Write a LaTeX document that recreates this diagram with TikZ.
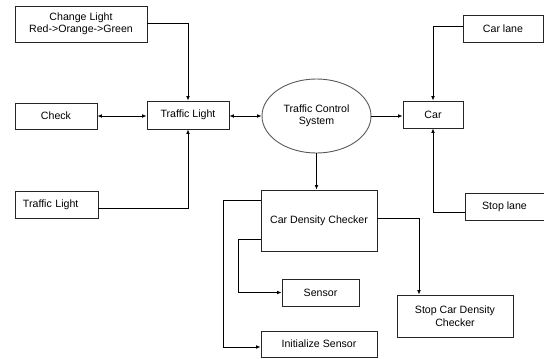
\documentclass[tikz,border=0pt]{standalone}
\usepackage{fontspec}
\setmainfont{Liberation Sans}
\usetikzlibrary{arrows.meta,shapes.geometric}
\begin{document}
\begin{tikzpicture}[x=1pt,y=-1pt,
  every node/.style={font=\fontsize{10.6}{12.5}\selectfont, inner sep=0pt},
  box/.style={draw=black!85, line width=0.9pt, fill=white, align=center},
  conn/.style={draw=black, line width=0.8pt},
  arr/.style={conn, -{Latex[length=4.5pt,width=3.8pt]}},
  darr/.style={conn, {Latex[length=4.5pt,width=3.8pt]}-{Latex[length=4.5pt,width=3.8pt]}}]
\useasboundingbox (0,0) rectangle (544,359);
\node[box, minimum width=132pt, minimum height=36pt] (chg) at (81,24) {Change Light\\Red->Orange->Green};
\node[box, minimum width=82pt, minimum height=26pt] (chk) at (56,116) {Check};
\node[box, minimum width=82pt, minimum height=28pt] (tl) at (188,115) {Traffic Light};
\node[box, minimum width=83pt, minimum height=27pt, text width=67pt, align=left] (tlb) at (56.5,204.5) {Traffic Light};
\node[draw=black!65, line width=0.9pt, ellipse, minimum width=109pt, minimum height=74pt, align=center] (tcs) at (316.5,116) {Traffic Control\\System};
\node[box, minimum width=60pt, minimum height=27pt] (car) at (433,114.5) {Car};
\node[box, minimum width=80pt, minimum height=27pt] (lane) at (503,28.5) {Car lane};
\node[box, minimum width=79pt, minimum height=27pt] (stop) at (504.5,206.5) {Stop lane};
\node[box, minimum width=116pt, minimum height=61pt] (cdc) at (319,220.5) {Car Density Checker};
\node[box, minimum width=77pt, minimum height=27pt] (sensor) at (320.5,292.5) {Sensor};
\node[box, minimum width=116pt, minimum height=26pt] (init) at (319,344) {Initialize Sensor};
\node[box, minimum width=116pt, minimum height=42pt] (scdc) at (455,316) {Stop Car Density\\Checker};

\draw[arr] ([yshift=1pt]chg.east) -| (tl.north);
\draw[darr] (chk.east) -- (chk.east -| tl.west);
\draw[arr] ([yshift=-3.5pt]tlb.east) -| (tl.south);
\draw[darr] (tl.east |- tcs.west) -- (tcs.west);
\draw[arr] (tcs.east) -- (tcs.east -| car.west);
\draw[arr] ([yshift=2.5pt]lane.west) -| (car.north);
\draw[arr] ([yshift=-5.5pt]stop.west) -| (car.south);
\draw[arr] (tcs.south) -- (tcs.south |- cdc.north);
\draw[arr] ([yshift=20.5pt]cdc.west) -- ++(-37pt,0) |- ([yshift=-3pt]init.west);
\draw[arr] ([yshift=-18.5pt]cdc.west) -- ++(-22pt,0) |- (sensor.west);
\draw[arr] ([yshift=2.5pt]cdc.east) -| ([xshift=-36pt]scdc.north);
\end{tikzpicture}
\end{document}
